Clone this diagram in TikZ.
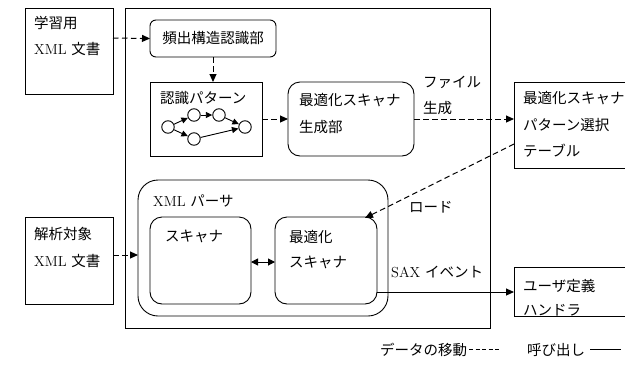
\documentclass[tikz,border=0pt]{standalone}
\usepackage{fontspec}
\newfontfamily\jp{Noto Sans CJK JP}
\usetikzlibrary{arrows.meta}
\begin{document}
\begin{tikzpicture}[x=1pt,y=-1pt,
  box/.style={draw,line width=0.9pt,anchor=north west,inner sep=0pt,outer sep=0pt},
  lbl/.style={anchor=west,inner sep=0pt,font=\fontsize{14.5}{16}\selectfont},
  dflow/.style={draw,line width=1pt,dash pattern=on 5.5pt off 3.5pt,-{Triangle[length=8pt,width=7pt]}},
  call/.style={draw,line width=1pt,-{Triangle[length=8pt,width=7pt]}},
  gnode/.style={circle,draw,line width=0.9pt,minimum size=12.5pt,inner sep=0pt}]
\path[use as bounding box,clip] (0,0) rectangle (625,365);
\fill[white] (0,0) rectangle (625,365);
% big box
\node[box,minimum width=365,minimum height=320] (main) at (125,8) {};
% external boxes
\node[box,minimum width=88,minimum height=86] (learn) at (25,8) {};
\node[box,minimum width=88,minimum height=87] (target) at (25,217) {};
\node[box,minimum width=130,minimum height=86] (table) at (514,82) {};
\node[box,minimum width=130,minimum height=49] (handler) at (514,267) {};
% inner boxes
\node[box,rounded corners=6pt,minimum width=126,minimum height=37] (freq) at (150,20) {};
\node[box,minimum width=112,minimum height=74] (pattern) at (150,82) {};
\node[box,rounded corners=12pt,minimum width=126,minimum height=74] (gen) at (288,82) {};
\node[box,rounded corners=20pt,minimum width=250,minimum height=136] (parser) at (138,180) {};
\node[box,rounded corners=12pt,minimum width=101,minimum height=87] (scan) at (150,217) {};
\node[box,rounded corners=12pt,minimum width=102,minimum height=87] (oscan) at (275,217) {};
% texts
\node[lbl] (t1) at (34,23) {\jp 学習用};
\node[lbl] (t2) at (34,49) {XML \jp 文書};
\node[lbl] (t3) at (34,234) {\jp 解析対象};
\node[lbl] (t4) at (34,261) {XML \jp 文書};
\node[lbl,anchor=center] (t5) at (213,38) {\jp 頻出構造認識部};
\node[lbl] (t6) at (160,98) {\jp 認識パターン};
\node[lbl] (t7) at (299,100) {\jp 最適化スキャナ};
\node[lbl] (t8) at (299,127) {\jp 生成部};
\node[lbl] (t9) at (523,98) {\jp 最適化スキャナ};
\node[lbl] (t10) at (523,125) {\jp パターン選択};
\node[lbl] (t11) at (523,151) {\jp テーブル};
\node[lbl] (t12) at (153,201) {XML \jp パーサ};
\node[lbl] (t13) at (165,236) {\jp スキャナ};
\node[lbl] (t14) at (289,237) {\jp 最適化};
\node[lbl] (t15) at (289,262) {\jp スキャナ};
\node[lbl] (t16) at (523,286) {\jp ユーザ定義};
\node[lbl] (t17) at (523,310) {\jp ハンドラ};
\node[lbl] (t18) at (423,82) {\jp ファイル};
\node[lbl] (t19) at (423,108) {\jp 生成};
\node[lbl] (t20) at (409,207) {\jp ロード};
\node[lbl] (t21) at (391,272) {SAX \jp イベント};
\node[lbl] (t22) at (380,350) {\jp データの移動};
\node[lbl] (t23) at (527,350) {\jp 呼び出し};
% graph inside pattern
\node[gnode] (g1) at (168,127) {};
\node[gnode] (g2) at (194,115) {};
\node[gnode] (g3) at (219,115) {};
\node[gnode] (g4) at (194,139) {};
\node[gnode] (g5) at (245,127) {};
\begin{scope}[-{Triangle[length=6.5pt,width=6pt]},line width=0.9pt]
\draw (g1) -- (g2);
\draw (g1) -- (g4);
\draw (g2) -- (g3);
\draw (g3) -- (g5);
\draw (g4) -- (g5);
\end{scope}
% connectors
\draw[dflow] (learn.east |- 0,38) -- (freq.west);
\draw[dflow] (freq.south) -- (freq.south |- pattern.north);
\draw[dflow] (pattern.east |- 0,119) -- (gen.west |- 0,119);
\draw[dflow] (gen.east |- 0,119) -- (table.west |- 0,119);
\coordinate (ld) at (365,218);
\draw[dflow] (table.west |- 0,144) -- (ld);
\draw[dflow] (target.east |- 0,255) -- (parser.west |- 0,255);
\draw[line width=1pt,{Triangle[length=7pt,width=7pt]}-{Triangle[length=7pt,width=7pt]}] (scan.east |- 0,262) -- (oscan.west |- 0,262);
\draw[call] (oscan.east |- 0,292) -- (handler.west |- 0,292);
% legend
\coordinate (la) at (469,349);
\coordinate (lb) at (500,349);
\coordinate (lc) at (590,349);
\coordinate (ld2) at (621,349);
\draw[line width=1pt,dash pattern=on 4pt off 2.5pt] (la) -- (lb);
\draw[line width=1pt] (lc) -- (ld2);
\end{tikzpicture}
\end{document}
